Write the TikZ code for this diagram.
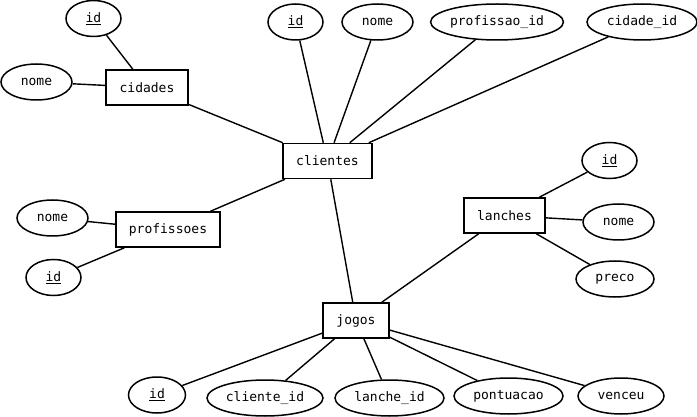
\documentclass[tikz,border=0pt]{standalone}
\usepackage{fontspec}
\setmonofont{DejaVu Sans Mono}
\usetikzlibrary{shapes.geometric}
\tikzset{
    x=1pt, y=-1pt, % pixel like units, y going down
    every node/.style={font=\ttfamily\fontsize{13}{15}\selectfont},
    entity/.style={draw, rectangle, line width=1.5pt, minimum height=35pt, inner sep=0pt},
    attr/.style={draw, ellipse, line width=1.5pt, minimum height=36pt, inner sep=0pt},
    link/.style={line width=1.4pt},
}

\begin{document}
\begin{tikzpicture}
  \useasboundingbox (0,0) rectangle (697,417);

  % entities
  \node[entity, minimum width=82pt]  (cidades)    at (147,87.5)  {cidades};
  \node[entity, minimum width=89pt]  (clientes)   at (327.5,161) {clientes};
  \node[entity, minimum width=104pt] (profissoes) at (168,229.5) {profissoes};
  \node[entity, minimum width=81pt]  (lanches)    at (504.5,215.5) {lanches};
  \node[entity, minimum width=66pt]  (jogos)      at (356,320.5) {jogos};

  % attributes of cidades
  \node[attr, minimum width=55pt] (cid_id)   at (93.5,18.5) {\underline{id}};
  \node[attr, minimum width=71pt] (cid_nome) at (36.5,82)   {nome};

  % attributes of clientes
  \node[attr, minimum width=55pt]  (cli_id)   at (295.5,22) {\underline{id}};
  \node[attr, minimum width=71pt]  (cli_nome) at (377.5,22) {nome};
  \node[attr, minimum width=132pt] (cli_prof) at (497,22)   {profissao\_id};
  \node[attr, minimum width=110pt] (cli_cid)  at (642,22)   {cidade\_id};

  % attributes of profissoes
  \node[attr, minimum width=71pt] (pro_nome) at (52.5,218)  {nome};
  \node[attr, minimum width=55pt] (pro_id)   at (53.5,277.5) {\underline{id}};

  % attributes of lanches
  \node[attr, minimum width=55pt] (lan_id)    at (609.5,160.5) {\underline{id}};
  \node[attr, minimum width=71pt] (lan_nome)  at (618.5,222)   {nome};
  \node[attr, minimum width=78pt] (lan_preco) at (615,279)     {preco};

  % attributes of jogos
  \node[attr, minimum width=57pt]  (jog_id)  at (157,395)   {\underline{id}};
  \node[attr, minimum width=116pt] (jog_cli) at (265,398)   {cliente\_id};
  \node[attr, minimum width=109pt] (jog_lan) at (389.5,398) {lanche\_id};
  \node[attr, minimum width=109pt] (jog_pts) at (508.5,396) {pontuacao};
  \node[attr, minimum width=86pt]  (jog_ven) at (621,396)   {venceu};

  \path[link]
    (cidades) edge (cid_id)
              edge (cid_nome)
              edge (clientes)
    (clientes) edge (cli_id)
               edge (cli_nome)
               edge (cli_prof)
               edge (cli_cid)
               edge (profissoes)
               edge (jogos)
    (profissoes) edge (pro_nome)
                 edge (pro_id)
    (lanches) edge (lan_id)
              edge (lan_nome)
              edge (lan_preco)
              edge (jogos)
    (jogos) edge (jog_id)
            edge (jog_cli)
            edge (jog_lan)
            edge (jog_pts)
            edge (jog_ven);
\end{tikzpicture}
\end{document}
